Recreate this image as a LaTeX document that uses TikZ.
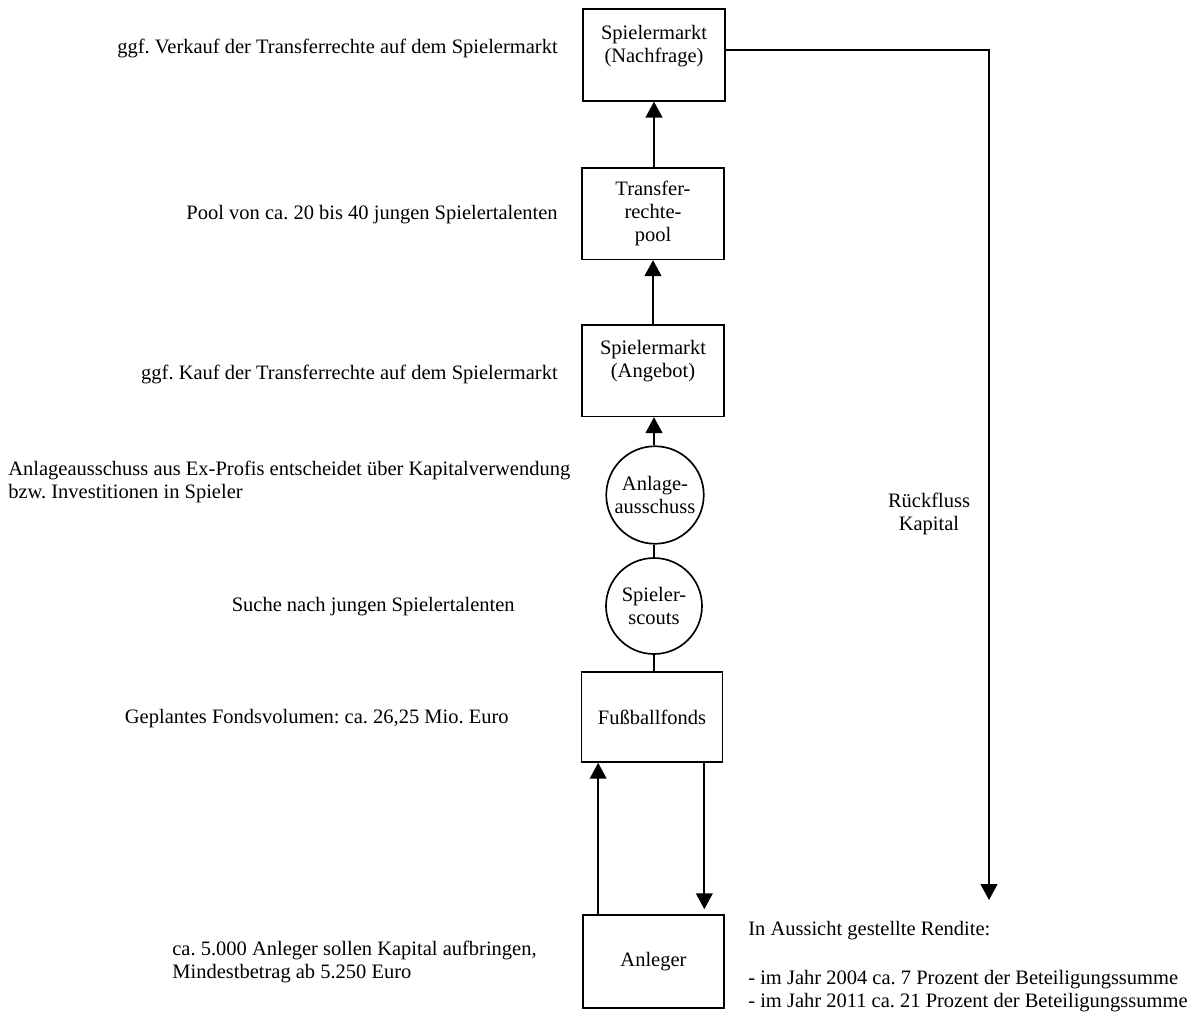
\documentclass[tikz,border=0pt]{standalone}
\usepackage{fontspec}
\setmainfont{Liberation Serif}
\usetikzlibrary{arrows.meta}
\begin{document}
\frenchspacing
\begin{tikzpicture}[x=0.6pt,y=-0.6pt,
  every node/.style={font=\fontsize{12.3pt}{13.8pt}\selectfont},
  box/.style={draw,line width=1pt,rectangle,align=center,minimum width=85.2pt,minimum height=55pt,inner sep=0pt},
  rund/.style={draw,line width=1pt,circle,align=center,minimum size=58.5pt,inner sep=0pt},
  lbl/.style={inner sep=0pt},
  conn/.style={line width=1.1pt},
  arr/.style={conn,-{Triangle[width=10pt,length=9.5pt]}}]
\useasboundingbox (0,0) rectangle (1200,1012);
% main column
\node[box] (nach) at (654,55) {Spielermarkt\\(Nachfrage)\\\mbox{}};
\node[box] (pool) at (653,213.5) {Transfer-\\rechte-\\pool};
\node[box] (ang) at (653,370.5) {Spielermarkt\\(Angebot)\\\mbox{}};
\node[rund] (anl) at (655,495) {Anlage-\\ausschuss};
\node[rund,minimum size=57.6pt] (scout) at (654,606) {Spieler-\\scouts};
\node[box,minimum width=84.6pt,minimum height=54pt] (fonds) at (652,717) {Fußballfonds};
\node[box,minimum width=84.6pt,minimum height=55.8pt] (anleger) at (653.5,961.5) {Anleger};
% connectors
\draw[arr] ([xshift=0.6pt]pool.north) -- ([xshift=0.6pt]pool.north |- nach.south);
\draw[arr] (ang.north) -- (ang.north |- pool.south);
\draw[arr] ([xshift=-0.6pt]anl.north) -- ([xshift=-0.6pt]anl.north |- ang.south);
\draw[conn] ([xshift=-0.6pt]anl.south) -- ([xshift=-0.6pt]anl.south |- scout.north);
\draw[conn] (scout.south) -- (scout.south |- fonds.north);
\draw[arr] ([xshift=9.6pt]anleger.north west) -- ([xshift=9.6pt]anleger.north west |- fonds.south);
\draw[arr,shorten >=3pt] ([xshift=-11.4pt]fonds.south east) -- ([xshift=-11.4pt]fonds.south east |- anleger.north);
\coordinate (ret) at (989,900);
\draw[arr] ([yshift=3pt]nach.east) -| (ret);
% left labels
\node[lbl,anchor=east] (t1) at (558,48) {ggf. Verkauf der Transferrechte auf dem Spielermarkt};
\node[lbl,anchor=east] (t2) at (558,215) {Pool von ca. 20 bis 40 jungen Spielertalenten};
\node[lbl,anchor=east] (t3) at (558,374) {ggf. Kauf der Transferrechte auf dem Spielermarkt};
\node[lbl,anchor=west,align=left] (t4) at (8,482) {Anlageausschuss aus Ex-Profis entscheidet über Kapitalverwendung\\bzw. Investitionen in Spieler};
\node[lbl,anchor=east] (t5) at (515,607) {Suche nach jungen Spielertalenten};
\node[lbl,anchor=east] (t6) at (509,719) {Geplantes Fondsvolumen: ca. 26,25 Mio. Euro};
\node[lbl,anchor=west,align=left] (t7) at (172,962) {ca. 5.000 Anleger sollen Kapital aufbringen,\\Mindestbetrag ab 5.250 Euro};
% right labels
\node[lbl,align=center] (r1) at (929,514) {Rückfluss\\Kapital};
\node[lbl,anchor=west] (r2) at (748,931) {In Aussicht gestellte Rendite:};
\node[lbl,anchor=west,align=left] (r3) at (748,991) {- im Jahr 2004 ca. 7 Prozent der Beteiligungssumme\\- im Jahr 2011 ca. 21 Prozent der Beteiligungssumme};
\end{tikzpicture}
\end{document}
